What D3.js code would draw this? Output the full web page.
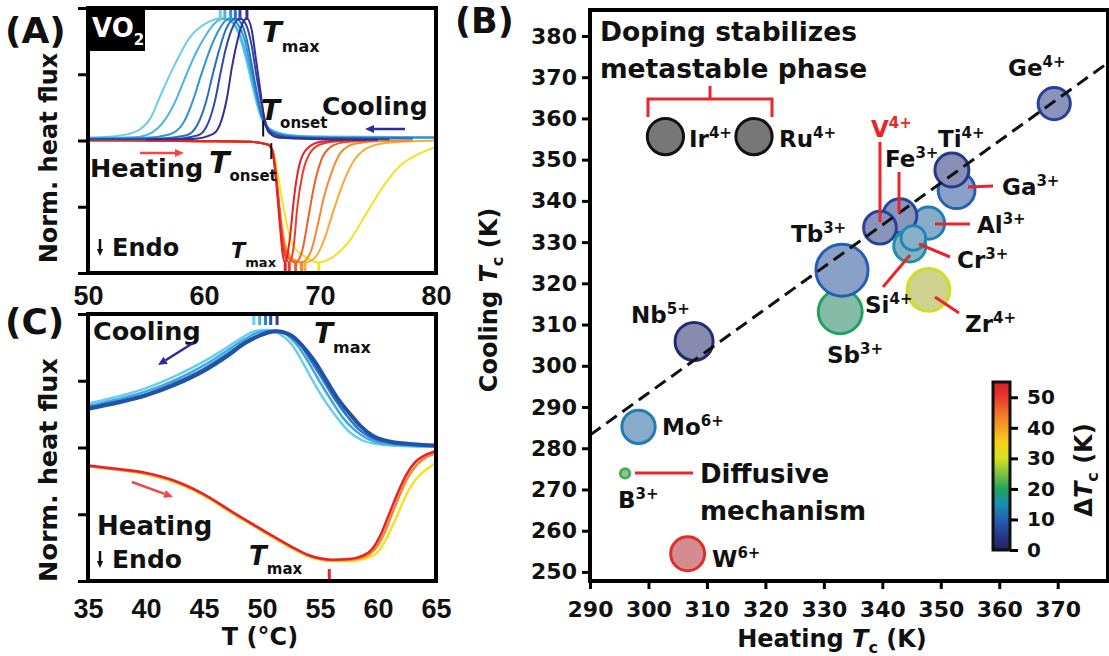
<!DOCTYPE html>
<html>
<head>
<meta charset="utf-8">
<script src="https://cdn.jsdelivr.net/npm/d3@7"></script>
<style>
body { margin: 0; background: #fff; }
</style>
</head>
<body>
<script>
// ---- panel A: VO2 DSC traces (T in degC, normalised heat flux) ----
var coolA = [
	[[50,0.02],[52,0.03],[53.5,0.05],[54.5,0.085],[55.4,0.17],[56.2,0.33],[57.35,0.55],[58.8,0.78],[60.2,0.885],[61.4,0.92],[62.3,0.9],[63,0.8],[63.6,0.62],[64.2,0.4],[64.8,0.2],[65.3,0.11],[66,0.07],[67,0.045],[69,0.03],[72,0.025],[80,0.025]],
	[[50,0.02],[54,0.025],[55.5,0.06],[56.5,0.14],[57.5,0.29],[58.4,0.48],[59.3,0.66],[60.2,0.8],[61,0.89],[61.8,0.92],[62.6,0.88],[63.3,0.75],[63.9,0.55],[64.4,0.36],[64.9,0.2],[65.4,0.11],[66.2,0.065],[67.5,0.04],[70,0.03],[80,0.025]],
	[[50,0.015],[55,0.02],[57,0.045],[58.2,0.13],[59,0.29],[59.7,0.48],[60.4,0.66],[61.2,0.82],[61.8,0.9],[62.3,0.92],[62.9,0.88],[63.5,0.76],[64,0.56],[64.5,0.35],[64.9,0.2],[65.4,0.1],[66.2,0.055],[68,0.03],[71,0.02],[80,0.02]],
	[[50,0.01],[56,0.015],[58.5,0.04],[59.5,0.13],[60.2,0.3],[60.7,0.48],[61.3,0.68],[61.9,0.84],[62.7,0.92],[63.3,0.87],[63.8,0.72],[64.3,0.48],[64.7,0.3],[65.1,0.16],[65.6,0.08],[66.5,0.04],[69,0.02],[78,0.015]],
	[[50,0.01],[57,0.01],[59.5,0.04],[60.4,0.14],[61,0.32],[61.4,0.5],[61.9,0.7],[62.5,0.86],[63.1,0.92],[63.6,0.88],[64.1,0.72],[64.5,0.5],[64.9,0.3],[65.3,0.14],[65.8,0.06],[67,0.025],[70,0.015],[76,0.01]],
	[[55,0.01],[59,0.012],[60.8,0.05],[61.5,0.15],[62,0.33],[62.4,0.55],[62.9,0.76],[63.3,0.88],[63.7,0.92],[64.1,0.84],[64.5,0.6],[64.9,0.35],[65.2,0.16],[65.6,0.06],[66.5,0.02],[70,0.01],[75,0.005]]
];
var coolTmaxA = [61.4, 61.8, 62.3, 62.7, 63.1, 63.7];
// heating, drawn yellow first so red ends on top
var heatA = [
	[[50,0],[60,-0.005],[64,-0.01],[65.5,-0.03],[66,-0.1],[66.8,-0.48],[67.6,-0.78],[68.75,-0.88],[69.9,-0.92],[71.1,-0.88],[72.6,-0.75],[74,-0.55],[75.5,-0.34],[76.9,-0.19],[78.3,-0.11],[80,-0.05]],
	[[50,0],[60,-0.005],[64,-0.01],[65.5,-0.03],[66,-0.1],[66.5,-0.5],[67,-0.78],[67.8,-0.9],[68.7,-0.92],[69.6,-0.88],[70.4,-0.74],[71.2,-0.52],[72,-0.32],[72.8,-0.17],[74,-0.06],[75.5,-0.02],[78,-0.005],[80,0]],
	[[50,0],[60,-0.005],[64,-0.01],[65.5,-0.03],[65.95,-0.08],[66.4,-0.42],[66.9,-0.78],[67.6,-0.9],[68.4,-0.92],[69.2,-0.84],[69.8,-0.64],[70.3,-0.44],[71,-0.24],[71.8,-0.09],[73,-0.025],[75,-0.005],[78,0]],
	[[50,0],[60,-0.005],[64,-0.01],[65.5,-0.03],[65.9,-0.08],[66.3,-0.35],[66.7,-0.7],[67.2,-0.88],[67.9,-0.92],[68.5,-0.82],[69,-0.58],[69.5,-0.34],[70.1,-0.15],[70.9,-0.05],[72,-0.015],[75,0]],
	[[50,0],[60,-0.005],[64,-0.01],[65.5,-0.03],[65.9,-0.08],[66.25,-0.3],[66.6,-0.62],[66.95,-0.86],[67.35,-0.92],[67.7,-0.82],[68.05,-0.5],[68.5,-0.25],[69.1,-0.1],[70,-0.03],[71.5,-0.005],[74,0]],
	[[55,0],[60,-0.005],[64,-0.01],[65.5,-0.03],[65.9,-0.08],[66.2,-0.3],[66.55,-0.65],[66.8,-0.87],[67,-0.92],[67.2,-0.86],[67.45,-0.7],[67.75,-0.44],[68.2,-0.19],[68.9,-0.06],[70.1,-0.01],[72,0]]
];
var heatTmaxA = [69.9, 68.7, 68.4, 67.9, 67.35, 67.0];
var onsetA = [65.1, 65.8]; // cooling, heating
var xTicksA = [50, 60, 70, 80];

// ---- panel C: slow transition traces ----
var coolC = [
	[[35,0.33],[37.5,0.38],[40,0.445],[42.5,0.535],[45,0.645],[47,0.75],[48.5,0.835],[49.5,0.875],[50.5,0.88],[51.5,0.85],[52.5,0.78],[53.5,0.64],[54.5,0.48],[55.5,0.34],[56.5,0.22],[57.5,0.12],[58.5,0.06],[60,0.025],[62.5,0.01],[65,0.005]],
	[[35,0.31],[37.5,0.36],[40,0.42],[42.5,0.505],[45,0.615],[47,0.725],[48.5,0.81],[49.8,0.865],[51,0.875],[52,0.85],[53,0.77],[54,0.64],[55,0.49],[56,0.35],[57,0.22],[58,0.13],[59,0.07],[60.5,0.03],[63,0.015],[65,0.01]],
	[[35,0.3],[37.5,0.345],[40,0.4],[42.5,0.485],[45,0.59],[47,0.7],[48.5,0.79],[50,0.85],[51.2,0.875],[52.3,0.85],[53.3,0.77],[54.3,0.64],[55.3,0.5],[56.3,0.36],[57.3,0.24],[58.3,0.14],[59.3,0.08],[60.8,0.04],[63,0.02],[65,0.015]],
	[[35,0.29],[37.5,0.335],[40,0.39],[42.5,0.47],[45,0.575],[47,0.685],[48.5,0.78],[50,0.845],[51.2,0.87],[52.5,0.84],[53.5,0.76],[54.5,0.65],[55.5,0.51],[56.5,0.37],[57.5,0.26],[58.5,0.16],[59.5,0.09],[61,0.045],[63,0.025],[65,0.015]]
];
var coolTmaxC = [49.3, 49.8, 50.3, 50.75, 51.3];
var heatC = [
	[[35,-0.14],[37.5,-0.165],[40,-0.2],[42.5,-0.26],[45,-0.36],[47.5,-0.495],[50,-0.625],[52.5,-0.75],[54,-0.815],[55,-0.84],[56,-0.85],[57.5,-0.85],[59,-0.83],[60,-0.78],[60.8,-0.67],[61.6,-0.52],[62.3,-0.38],[63,-0.27],[63.8,-0.19],[64.5,-0.145],[65,-0.115]],
	[[35,-0.14],[37.5,-0.165],[40,-0.195],[42.5,-0.255],[45,-0.355],[47.5,-0.49],[50,-0.62],[52.5,-0.745],[54,-0.81],[55,-0.835],[56,-0.845],[57.5,-0.84],[58.9,-0.815],[59.7,-0.765],[60.5,-0.65],[61.2,-0.5],[61.9,-0.35],[62.6,-0.22],[63.4,-0.125],[64.2,-0.07],[65,-0.044]],
	[[35,-0.135],[37.5,-0.16],[40,-0.19],[42.5,-0.25],[45,-0.35],[47.5,-0.485],[50,-0.615],[52.5,-0.74],[54,-0.805],[55,-0.83],[56,-0.84],[57.5,-0.835],[58.7,-0.81],[59.5,-0.76],[60.3,-0.64],[61,-0.49],[61.7,-0.34],[62.4,-0.21],[63.2,-0.11],[64,-0.06],[65,-0.025]]
];
var heatTmaxC = 55.8;
var xTicksC = [35, 40, 45, 50, 55, 60, 65];

// ---- panel B: heating vs cooling Tc of doped VO2 (K) ----
var ions     = ["Ir", "Ru", "Ge", "Ga", "Ti", "Al", "Fe", "V", "Cr", "Si", "Sb", "Tb", "Zr", "Nb", "Mo", "B", "W"];
var charges  = ["4+", "4+", "4+", "3+", "4+", "3+", "3+", "4+", "3+", "4+", "3+", "3+", "4+", "5+", "6+", "3+", "6+"];
var heatTc   = [302.9, 318.05, 369.4, 352.7, 351.9, 347.9, 343.0, 339.6, 344.7, 345.3, 332.8, 333.1, 347.9, 307.8, 298.3, 296.0, 306.7];
var coolTc   = [355.6, 355.6, 363.6, 342.6, 347.5, 334.6, 336.4, 333.5, 329.1, 331.0, 313.1, 323.2, 318.4, 305.9, 285.2, 273.9, 254.4];
var spreadK  = [3.1, 3.1, 2.75, 3.15, 2.9, 2.75, 2.9, 2.8, 2.75, 2.1, 3.75, 4.45, 3.65, 3.25, 2.85, 0.8, 2.9];
var noDelta  = ["Ir", "Ru"];  // metastable phase, drawn grey
var fitLine  = [[290, 283.2], [378.6, 373.5]];
var xTicksB  = [290, 300, 310, 320, 330, 340, 350, 360, 370];
var yTicksB  = [250, 260, 270, 280, 290, 300, 310, 320, 330, 340, 350, 360, 370, 380];
var cbTicks  = [0, 10, 20, 30, 40, 50];

// colours
var coolColA = ["#6acdf0", "#48b4e6", "#2f95d3", "#2771bd", "#2b4aa6", "#35308f"];
var heatColA = ["#f5e126", "#f8ab35", "#f58a2d", "#f05f28", "#ec3d28", "#e52228"];
var coolColC = ["#6acdf0", "#3fa8de", "#2a78c4", "#2152a8"];
var tmaxColC = ["#6acdf0", "#3fb0e2", "#2a85cc", "#2455aa", "#3a3a96"];
var heatColC = ["#f5e126", "#f5862a", "#e52228"];
var dtStops  = [0, 5, 10, 15, 20, 25, 30, 35, 40, 45, 50, 55];
var dtCols   = ["#25215e", "#273a8f", "#2560b2", "#1d8db5", "#1fa35c", "#7cc242", "#d8e021", "#f5d21c", "#f5a021", "#f2702a", "#e8392a", "#d91f26"];
var colorDT  = d3.scaleLinear().domain(dtStops).range(dtCols);
var red = "#e8252a";

var svg = d3.select("body").append("svg")
	.attr("width", 1109).attr("height", 656)
	.attr("font-family", '"DejaVu Sans", sans-serif')
	.attr("font-weight", "bold");
var defs = svg.append("defs");

var xA = d3.scaleLinear().domain([50, 80]).range([88, 436]);
var yA = d3.scaleLinear().domain([-1, 1]).range([273, 8]);
var xC = d3.scaleLinear().domain([35, 65]).range([88, 436]);
var yC = d3.scaleLinear().domain([-1, 1]).range([581, 314]);
var xB = d3.scaleLinear().domain([290, 378.6]).range([590, 1108]);
var yB = d3.scaleLinear().domain([247.8, 386.3]).range([581, 10]);
var yCB = d3.scaleLinear().domain([0, 55]).range([550, 382]);

function clip(id, x0, y0, x1, y1) {
	defs.append("clipPath").attr("id", id).append("rect")
		.attr("x", x0).attr("y", y0).attr("width", x1 - x0).attr("height", y1 - y0);
}
clip("clipA", 88, 8, 436, 273);
clip("clipC", 88, 314, 436, 581);
clip("clipB", 590, 10, 1108, 581);

function frame(x0, y0, x1, y1) {
	svg.append("rect").attr("x", x0).attr("y", y0)
		.attr("width", x1 - x0).attr("height", y1 - y0)
		.attr("fill", "none").attr("stroke", "#000").attr("stroke-width", 4);
}

function styleAxis(g, size, family) {
	g.select(".domain").remove();
	g.attr("font-family", family).attr("font-size", size).attr("font-weight", "bold");
	g.selectAll(".tick line").attr("stroke", "#000").attr("stroke-width", 3);
	g.selectAll(".tick text").attr("fill", "#111");
}

function curves(data, colors, x, y, width, clipId) {
	var line = d3.line().x(function (d) { return x(d[0]); }).y(function (d) { return y(d[1]); })
		.curve(d3.curveMonotoneX);
	svg.append("g").attr("clip-path", "url(#" + clipId + ")")
		.selectAll("path").data(data).join("path")
		.attr("d", line)
		.attr("fill", "none")
		.attr("stroke", function (d, i) { return colors[i]; })
		.attr("stroke-width", width)
		.attr("stroke-linejoin", "round");
}

function arrow(x1, y1, x2, y2, color, head) {
	var a = Math.atan2(y2 - y1, x2 - x1);
	var bx = x2 - head * Math.cos(a), by = y2 - head * Math.sin(a);
	var px = -Math.sin(a) * head * 0.45, py = Math.cos(a) * head * 0.45;
	svg.append("line").attr("x1", x1).attr("y1", y1).attr("x2", bx).attr("y2", by)
		.attr("stroke", color).attr("stroke-width", 2.5);
	svg.append("path")
		.attr("d", "M" + x2 + "," + y2 + "L" + (bx + px) + "," + (by + py) + "L" + (bx - px) + "," + (by - py) + "Z")
		.attr("fill", color);
}

// T with italic body and subscript
function tSub(x, y, sub, size, subSize, drop) {
	var t = svg.append("text").attr("x", x).attr("y", y).attr("font-size", size).attr("fill", "#111");
	t.append("tspan").attr("font-style", "italic").text("T");
	t.append("tspan").attr("dy", drop).attr("font-size", subSize).text(sub);
	return t;
}

function word(x, y, s, size, color, anchor) {
	return svg.append("text").attr("x", x).attr("y", y).attr("font-size", size)
		.attr("fill", color || "#111").attr("text-anchor", anchor || "start").text(s);
}

function endo(x, y, size) {
	arrow(x, y - 17, x, y, "#111", 7);
	word(x + 12, y, "Endo", size);
}

// ================= panel A =================
curves(heatA, heatColA, xA, yA, 2, "clipA");
curves(coolA, coolColA, xA, yA, 2, "clipA");

coolTmaxA.forEach(function (t, i) {
	svg.append("line").attr("x1", xA(t)).attr("x2", xA(t)).attr("y1", 10).attr("y2", 20)
		.attr("stroke", coolColA[i]).attr("stroke-width", 3);
});
heatTmaxA.forEach(function (t, i) {
	svg.append("line").attr("x1", xA(t)).attr("x2", xA(t)).attr("y1", 263).attr("y2", 272)
		.attr("stroke", heatColA[i]).attr("stroke-width", 3);
});
// onset markers
svg.append("line").attr("x1", xA(onsetA[0])).attr("x2", xA(onsetA[0]))
	.attr("y1", yA(0.15)).attr("y2", yA(0.03)).attr("stroke", "#111").attr("stroke-width", 2);
svg.append("line").attr("x1", xA(onsetA[1])).attr("x2", xA(onsetA[1]))
	.attr("y1", yA(-0.02)).attr("y2", yA(-0.14)).attr("stroke", "#111").attr("stroke-width", 2);

frame(88, 8, 436, 273);
var gyA = svg.append("g").attr("transform", "translate(88,0)")
	.call(d3.axisLeft(yA).tickValues([-1, -0.5, 0, 0.5, 1]).tickSize(10).tickSizeOuter(0).tickFormat(""));
styleAxis(gyA, 10, "sans-serif");
var gxA = svg.append("g").attr("transform", "translate(0,273)")
	.call(d3.axisBottom(xA).tickValues(xTicksA).tickSize(0).tickPadding(13));
styleAxis(gxA, 27, '"Liberation Sans", Arial, sans-serif');

// VO2 badge
svg.append("rect").attr("x", 88).attr("y", 8).attr("width", 57).attr("height", 43).attr("fill", "#000");
var vo = svg.append("text").attr("x", 92).attr("y", 37).attr("font-size", 26).attr("fill", "#fff");
vo.append("tspan").text("VO");
vo.append("tspan").attr("dy", 8).attr("font-size", 15).text("2");

word(5, 43, "(A)", 36);
tSub(262, 42, "max", 29, 16, 10);
tSub(261, 120, "onset", 28, 15, 8);
word(322, 115, "Cooling", 25);
arrow(405, 129, 365, 129, "#2b2ba0", 9);
word(90, 177, "Heating", 25.5);
arrow(140, 153, 184, 153, "#f04848", 9);
tSub(209, 173, "onset", 30, 15, 8);
endo(100, 256, 24);
tSub(231, 258, "max", 21, 13, 9);

svg.append("text").attr("transform", "translate(57,158) rotate(-90)")
	.attr("text-anchor", "middle").attr("font-size", 24).attr("fill", "#111")
	.text("Norm. heat flux");

// ================= panel C =================
curves(heatC, heatColC, xC, yC, 2.5, "clipC");
curves(coolC.slice(0, 3), coolColC, xC, yC, 2.5, "clipC");
curves([coolC[3]], [coolColC[3]], xC, yC, 4, "clipC");

coolTmaxC.forEach(function (t, i) {
	svg.append("line").attr("x1", xC(t)).attr("x2", xC(t)).attr("y1", 316).attr("y2", 325)
		.attr("stroke", tmaxColC[i]).attr("stroke-width", 3);
});
svg.append("line").attr("x1", xC(heatTmaxC)).attr("x2", xC(heatTmaxC)).attr("y1", 569).attr("y2", 579)
	.attr("stroke", red).attr("stroke-width", 3);

frame(88, 314, 436, 581);
var gyC = svg.append("g").attr("transform", "translate(88,0)")
	.call(d3.axisLeft(yC).tickValues([-1, -0.5, 0, 0.5, 1]).tickSize(10).tickSizeOuter(0).tickFormat(""));
styleAxis(gyC, 10, "sans-serif");
var gxC = svg.append("g").attr("transform", "translate(0,581)")
	.call(d3.axisBottom(xC).tickValues(xTicksC).tickSize(0).tickPadding(18));
styleAxis(gxC, 27, '"Liberation Sans", Arial, sans-serif');

word(5, 334, "(C)", 36);
word(93, 340, "Cooling", 25.5);
arrow(193, 343, 158, 365, "#2b2ba0", 9);
tSub(314, 343, "max", 28, 16, 10);
arrow(132, 482, 173, 497, "#f04848", 9);
word(97, 535, "Heating", 26);
endo(100, 568, 25);
tSub(249, 565, "max", 26, 15, 9);

svg.append("text").attr("transform", "translate(57,470) rotate(-90)")
	.attr("text-anchor", "middle").attr("font-size", 25.5).attr("fill", "#111")
	.text("Norm. heat flux");
var tx = svg.append("text").attr("x", 260).attr("y", 645).attr("text-anchor", "middle")
	.attr("font-size", 24).attr("fill", "#111").text("T (\u00B0C)");

// ================= panel B =================
var dots = ions.map(function (n, i) {
	return { ion: n, heat: heatTc[i], cool: coolTc[i], spread: spreadK[i] };
});
svg.append("g").attr("clip-path", "url(#clipB)")
	.selectAll("circle").data(dots).join("circle")
	.attr("cx", function (d) { return xB(d.heat); })
	.attr("cy", function (d) { return yB(d.cool); })
	.attr("r", function (d) { return xB(290 + d.spread) - xB(290); })
	.attr("stroke-width", 3)
	.attr("stroke", function (d) {
		return noDelta.indexOf(d.ion) > -1 ? "#111" : colorDT(d.heat - d.cool);
	})
	.attr("fill", function (d) {
		if (noDelta.indexOf(d.ion) > -1) return "#777";
		return d3.interpolateRgb(colorDT(d.heat - d.cool), "#cbcbd6")(0.6);
	});

svg.append("path").attr("clip-path", "url(#clipB)")
	.attr("d", d3.line().x(function (d) { return xB(d[0]); }).y(function (d) { return yB(d[1]); })(fitLine))
	.attr("stroke", "#111").attr("stroke-width", 3).attr("stroke-dasharray", "13,7").attr("fill", "none");

frame(590, 10, 1108, 581);
var gyB = svg.append("g").attr("transform", "translate(590,0)")
	.call(d3.axisLeft(yB).tickValues(yTicksB).tickSize(8).tickPadding(5));
styleAxis(gyB, 22, '"DejaVu Sans", sans-serif');
var gxB = svg.append("g").attr("transform", "translate(0,581)")
	.call(d3.axisBottom(xB).tickValues(xTicksB).tickSize(8).tickPadding(12));
styleAxis(gxB, 22, '"DejaVu Sans", sans-serif');

// ion labels, pixel anchors of the text baselines
var ionLabels = [
	["Ge", "4+", 1008, 76, "#111"], ["Ti", "4+", 938, 147, "#111"], ["Ga", "3+", 1002, 195, "#111"],
	["V", "4+", 871, 137, red], ["Fe", "3+", 885, 167, "#111"], ["Al", "3+", 977, 233, "#111"],
	["Cr", "3+", 957, 268, "#111"], ["Si", "4+", 865, 313, "#111"], ["Zr", "4+", 965, 332, "#111"],
	["Tb", "3+", 791, 242, "#111"], ["Sb", "3+", 827, 363, "#111"], ["Nb", "5+", 631, 323, "#111"],
	["Mo", "6+", 662, 435, "#111"], ["B", "3+", 618, 508, "#111"], ["W", "6+", 712, 567, "#111"],
	["Ir", "4+", 689, 147, "#111"], ["Ru", "4+", 779, 147, "#111"]
];
ionLabels.forEach(function (l) {
	var t = svg.append("text").attr("x", l[2]).attr("y", l[3]).attr("font-size", 23).attr("fill", l[4]);
	t.append("tspan").text(l[0]);
	t.append("tspan").attr("dy", -9).attr("font-size", 15).text(l[1]);
});

var leaders = [
	[880, 142, 880, 222], [899, 172, 899, 213], [968, 187, 993, 186], [935, 224, 970, 224],
	[919, 244, 950, 257], [883, 287, 910, 255], [935, 297, 959, 313], [635, 473, 693, 473]
];
leaders.forEach(function (l) {
	svg.append("line").attr("x1", l[0]).attr("y1", l[1]).attr("x2", l[2]).attr("y2", l[3])
		.attr("stroke", red).attr("stroke-width", 3);
});
svg.append("path").attr("d", "M648,117V99H772V117M710,99V86")
	.attr("fill", "none").attr("stroke", red).attr("stroke-width", 3);

word(600, 41, "Doping stabilizes", 26.5);
word(600, 78, "metastable phase", 26.5);
word(700, 483, "Diffusive", 26);
word(700, 520, "mechanism", 26);
word(455, 33, "(B)", 35);

var xt = svg.append("text").attr("x", 832).attr("y", 647).attr("text-anchor", "middle")
	.attr("font-size", 24).attr("fill", "#111");
xt.append("tspan").text("Heating ");
xt.append("tspan").attr("font-style", "italic").text("T");
xt.append("tspan").attr("dy", 6).attr("font-size", 16).text("c");
xt.append("tspan").attr("dy", -6).text(" (K)");

var yt = svg.append("text").attr("transform", "translate(497,300) rotate(-90)")
	.attr("text-anchor", "middle").attr("font-size", 24).attr("fill", "#111");
yt.append("tspan").text("Cooling ");
yt.append("tspan").attr("font-style", "italic").text("T");
yt.append("tspan").attr("dy", 6).attr("font-size", 16).text("c");
yt.append("tspan").attr("dy", -6).text(" (K)");

// colour bar
var grad = defs.append("linearGradient").attr("id", "cbGrad")
	.attr("x1", 0).attr("y1", 1).attr("x2", 0).attr("y2", 0);
dtStops.forEach(function (s, i) {
	grad.append("stop").attr("offset", s / 55).attr("stop-color", dtCols[i]);
});
svg.append("rect").attr("x", 993).attr("y", yCB(55)).attr("width", 17).attr("height", yCB(0) - yCB(55))
	.attr("fill", "url(#cbGrad)").attr("stroke", "#111").attr("stroke-width", 3);
var gcb = svg.append("g").attr("transform", "translate(1010,0)")
	.call(d3.axisRight(yCB).tickValues(cbTicks).tickSize(8).tickPadding(9));
styleAxis(gcb, 20, '"DejaVu Sans", sans-serif');

var ct = svg.append("text").attr("transform", "translate(1092,470) rotate(-90)")
	.attr("text-anchor", "middle").attr("font-size", 24).attr("fill", "#111");
ct.append("tspan").text("\u0394");
ct.append("tspan").attr("font-style", "italic").text("T");
ct.append("tspan").attr("dy", 6).attr("font-size", 16).text("c");
ct.append("tspan").attr("dy", -6).text(" (K)");
</script>
</body>
</html>
